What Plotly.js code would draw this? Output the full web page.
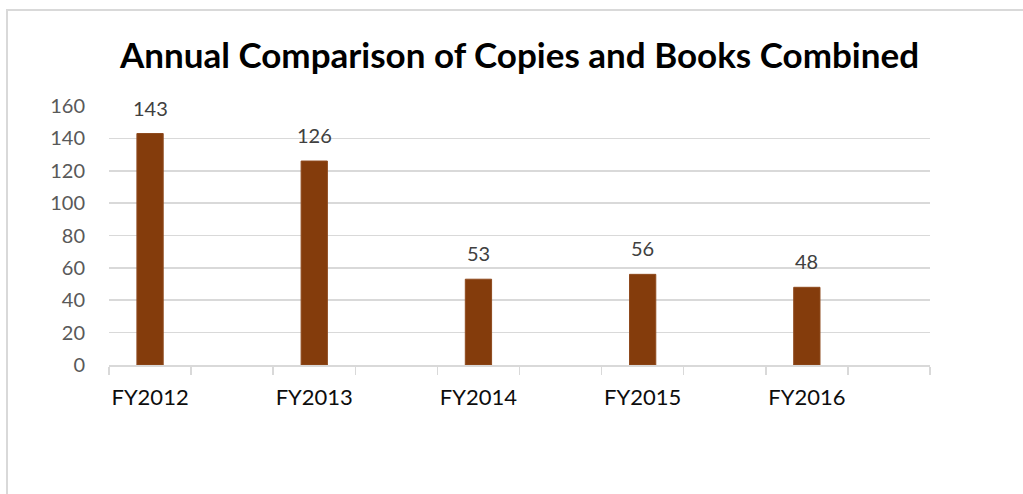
<!DOCTYPE html>
<html>
<head>
<meta charset="utf-8">
<script src="https://cdn.plot.ly/plotly-3.0.1.min.js"></script>
<style>
  html, body { margin: 0; padding: 0; background: #ffffff; }
  #wrap { position: relative; width: 1023px; height: 494px; overflow: hidden; }
  #chart { position: absolute; left: 0; top: 0; width: 1023px; height: 494px; }
  #frame { position: absolute; left: 6px; top: 9px; width: 1100px; height: 600px;
           border-left: 2px solid #d9d9d9; border-top: 2px solid #d9d9d9; pointer-events: none; }
</style>
</head>
<body>
<div id="wrap">
  <div id="chart"></div>
  <div id="frame"></div>
</div>
<script>
// Data
const categories = ["FY2012", "FY2013", "FY2014", "FY2015", "FY2016"];
const values = [143, 126, 53, 56, 48];
const slotCount = 10;          // category slots on the axis (every other slot is empty)
const yTicks = [0, 20, 40, 60, 80, 100, 120, 140, 160];

const xPos = categories.map((c, i) => i * 2);
const boundaries = [];
for (let i = 0; i <= slotCount; i++) boundaries.push(i - 0.5);

const FONT = "Lato, 'Open Sans', sans-serif";

const trace = {
  type: "bar",
  x: xPos,
  y: values,
  width: 0.32,
  marker: { color: "#843c0c", line: { color: "#8f4a1e", width: 1 } },
  hoverinfo: "skip"
};

const annotations = values.map((v, i) => ({
  x: xPos[i], y: v, xref: "x", yref: "y",
  text: String(v), showarrow: false,
  yanchor: "bottom", yshift: 12,
  font: { family: FONT, size: 20, color: "#404040" }
}));

const layout = {
  width: 1023, height: 494,
  margin: { l: 109, r: 93, t: 106, b: 129 },
  paper_bgcolor: "#ffffff",
  plot_bgcolor: "#ffffff",
  showlegend: false,
  title: {
    text: "<b>Annual Comparison of Copies and Books Combined</b>",
    font: { family: FONT, size: 35, color: "#000000" },
    x: 0.5, xref: "paper", xanchor: "center",
    y: 1 - 56 / 494, yref: "container", yanchor: "middle"
  },
  xaxis: {
    range: [-0.5, slotCount - 0.5],
    tickvals: xPos,
    ticktext: categories,
    ticks: "",
    showgrid: false,
    zeroline: false,
    showline: true, linecolor: "#d9d9d9", linewidth: 1.5,
    tickfont: { family: FONT, size: 22, color: "#0d0d0d" },
    ticklabelstandoff: 12,
    minor: { tickvals: boundaries, ticks: "outside", ticklen: 8, tickcolor: "#d9d9d9", tickwidth: 1.5, showgrid: false },
    fixedrange: true
  },
  yaxis: {
    range: [0, 160],
    tickvals: yTicks,
    ticks: "",
    showgrid: true, gridcolor: "#d9d9d9", gridwidth: 1.6,
    zeroline: false,
    showline: false,
    tickfont: { family: FONT, size: 20, color: "#595959" },
    ticklabelstandoff: 23,
    fixedrange: true
  },
  annotations: annotations
};

Plotly.newPlot("chart", [trace], layout, { displayModeBar: false, staticPlot: true });
</script>
</body>
</html>
